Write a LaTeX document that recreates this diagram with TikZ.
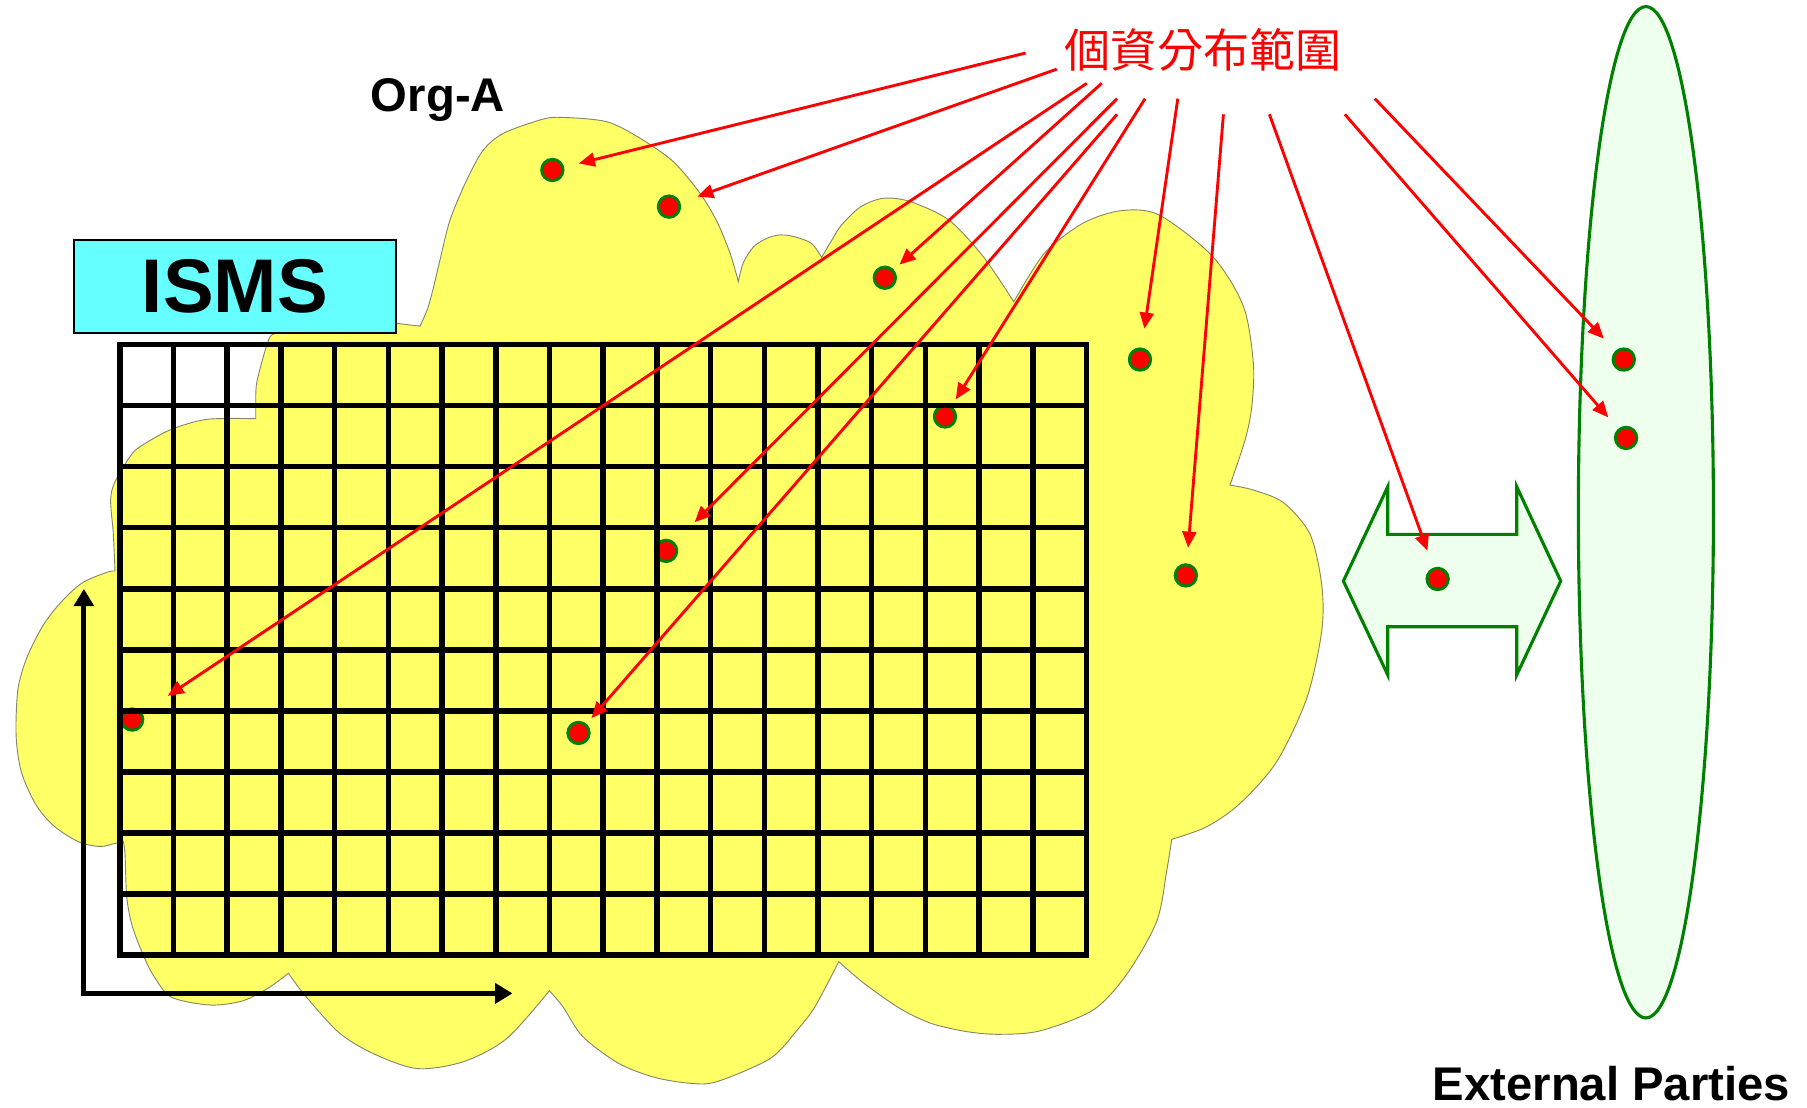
\documentclass[tikz,border=0pt]{standalone}
\usepackage{fontspec}
\setmainfont{Liberation Sans}
\newfontfamily\cjkfont{Noto Sans CJK TC}
\usetikzlibrary{arrows.meta}

\definecolor{cloudyellow}{HTML}{FFFF66}
\definecolor{cloudedge}{HTML}{85856A}
\definecolor{ismscyan}{HTML}{66FFFF}
\definecolor{partygreen}{HTML}{008000}
\definecolor{partyfill}{HTML}{EEFFEE}

\begin{document}
\begin{tikzpicture}[x=1pt,y=-1pt,
  dot/.style={circle, fill=red, draw=partygreen, line width=2.6pt,
    minimum size=18.5pt, inner sep=0pt},
  pointer/.style={draw=red, line width=2.5pt, -{Triangle[length=14pt,width=12pt]}},
  gridline/.style={line width=4.8pt, draw=black},
  axisline/.style={line width=4.3pt, draw=black,
    {Triangle[length=15pt,width=17pt]}-{Triangle[length=15pt,width=17pt]}},
  greenshape/.style={draw=partygreen, fill=partyfill, line width=2.7pt},
  heading/.style={font=\bfseries\fontsize{41}{45}\selectfont, inner sep=0pt}
]
\useasboundingbox (0,0) rectangle (1568,961);

% external parties
\draw[greenshape] (1428.2,444.5) ellipse [x radius=58.6, y radius=438.8];

% organisation cloud
\draw[fill=cloudyellow, draw=cloudedge, line width=0.8pt]
  (344.2,280.6) -- (364.5,283)
  -- plot[smooth] coordinates {(364.5,283) (371,268) (376,250) (381.8,225.6) (390.5,190.9)
      (405,156.2) (419.4,130.2) (436.8,115.7) (468.6,104.1) (486,101.8) (526.4,105.6)
      (555.4,120) (584.3,140.3) (607.4,167.7) (622,192) (633.5,219.8) (640.7,244.4)}
  -- plot[smooth] coordinates {(640.7,244.4) (645,228) (654,214) (665,207) (675.5,204)
      (687,204.8) (703.8,211) (713,223.3)}
  -- plot[smooth] coordinates {(713,223.3) (722,208) (730.3,195.2) (746.9,179.4)
      (766.8,172) (790,175) (823.3,190.9) (853.2,222.7) (879.7,261.8)}
  -- plot[smooth] coordinates {(879.7,261.8) (906.3,219.8) (939.5,193.8) (972.8,182.8)
      (1006,186.6) (1052.4,222.7) (1079,266) (1087.6,315.3) (1086.2,352.9)
      (1080.4,381.8) (1067.3,420.9)}
  -- plot[smooth] coordinates {(1067.3,420.9) (1087.6,425.2) (1113.6,436.1) (1136.8,463.6)
      (1146.9,507.4) (1146.9,547.6) (1133.9,606) (1107.9,660.8) (1076,697.2)
      (1047.1,717.4) (1016.7,728.3)}
  -- plot[smooth] coordinates {(1016.7,728.3) (1012.4,755.7) (1003.7,799.5) (978,845)
      (948.7,876.3) (902.5,894.5) (867,897.5) (839,895.2) (807.9,888) (780.8,875)
      (749.8,853.3) (727.8,834.5)}
  -- plot[smooth] coordinates {(727.8,834.5) (707.2,873.5) (691.7,893.8) (668.5,918.4)
      (622,938.6) (598.8,940) (567.8,934.8) (536.8,922.7) (505.8,899.6) (488.4,873.5)
      (476.7,859.7)}
  -- plot[smooth] coordinates {(476.7,859.7) (440,900.9) (402.9,921) (362.6,927.3)
      (325.4,914.9) (294.4,896.3) (263.4,862.2) (250.4,844.5)}
  -- plot[smooth] coordinates {(250.4,844.5) (232.5,857.5) (210.8,868.4) (182.8,872.1)
      (148.8,865.3) (133.3,846.7) (124,828.1) (114.7,803.3) (110,778.5) (108.5,741.3)
      (106.9,729.9)}
  -- plot[smooth] coordinates {(106.9,729.9) (99.2,732) (86.8,734.5) (68.2,730.5)
      (46.5,716.5) (31,698) (18.6,670) (14,639) (15.5,598.8) (23.2,570.9) (37.2,543)
      (52.7,522.8) (71.3,505.8) (93,496.5) (99.8,495.5)}
  -- plot[smooth] coordinates {(99.8,495.5) (98.3,462.8) (96,433.9) (99.8,418)
      (112.8,396.3) (121.5,387.6) (147.5,373.1) (179.4,363.9) (221.9,363.3)}
  -- (221.9,347.1)
  -- plot[smooth] coordinates {(221.9,347.1) (222.7,332.6) (228.5,309.5) (234.3,292.2)
      (240.1,289.2)}
  -- cycle;

% ISMS label box
\node[draw=black, line width=1.4pt, fill=ismscyan, minimum width=279.6pt,
  minimum height=81pt, inner sep=0pt, font=\bfseries\fontsize{66}{70}\selectfont]
  (isms) at (203.8,248.5) {ISMS};

% exchange arrow between the organisation and external parties
\draw[greenshape, line join=miter]
  (1165.7,504.2) -- (1204.2,422.3) -- (1204.2,463.7) -- (1316.1,463.7)
  -- (1316.1,422.3) -- (1354.3,504.2) -- (1316.1,585.7) -- (1316.1,543.8)
  -- (1204.2,543.8) -- (1204.2,585.7) -- cycle;

% personal data locations
\node[dot] (d1) at (479.3,147.5) {};
\node[dot] (d2) at (580.5,179.3) {};
\node[dot] (d3) at (114.7,624.4) {};
\node[dot] (d4) at (767.8,241) {};
\node[dot] (d5) at (578,478) {};
\node[dot] (d6) at (502,636) {};
\node[dot] (d7) at (820,361.4) {};
\node[dot] (d8) at (989.2,312) {};
\node[dot] (d9) at (1029,499.3) {};
\node[dot] (d10) at (1247.5,502.4) {};
\node[dot] (d11) at (1409,312) {};
\node[dot] (d12) at (1411,380) {};

% ISMS scope grid
\draw[gridline] (104,299) rectangle (942.8,828.7);
\foreach \i in {1,...,17}
  \draw[gridline] ({104+\i*46.6},299) -- ({104+\i*46.6},828.7);
\foreach \j in {1,...,9}
  \draw[gridline] (104,{299+\j*52.97}) -- (942.8,{299+\j*52.97});

% axes
\coordinate (ytip) at (72.8,511);
\coordinate (origin) at (72.8,862);
\coordinate (xtip) at (444.7,862);
\draw[axisline, line join=miter] (ytip) -- (origin) -- (xtip);

% titles
\node[heading, anchor=base] (orga) at (380,97) {Org-A};
\node[heading, anchor=base] (ext) at (1398.3,955) {External Parties};
\node[font=\cjkfont\fontsize{40}{44}\selectfont, text=red, inner sep=0pt, anchor=base]
  (title) at (1044,59) {個資分布範圍};

% pointers from the title to each location
\coordinate (s1) at (890,46);
\coordinate (s2) at (917,60);
\coordinate (s3) at (943,72.3);
\coordinate (s4) at (956,72.3);
\coordinate (s5) at (969.3,85.6);
\coordinate (s6) at (969.3,99.2);
\coordinate (s7) at (993.6,85.6);
\coordinate (s8) at (1022,85.6);
\coordinate (s9) at (1061.6,99.2);
\coordinate (s10) at (1101.5,99.2);
\coordinate (s11) at (1167,99.2);
\coordinate (s12) at (1193,85.6);

\draw[pointer, shorten >=13pt] (s1) -- (d1);
\draw[pointer, shorten >=15.5pt] (s2) -- (d2);
\draw[pointer, shorten >=26.5pt] (s3) -- (d3);
\draw[pointer, shorten >=6.5pt] (s4) -- (d4);
\draw[pointer, shorten >=24.5pt] (s5) -- (d5);
\draw[pointer, shorten >=6.5pt] (s6) -- (d6);
\draw[pointer, shorten >=7pt] (s7) -- (d7);
\draw[pointer, shorten >=16.5pt] (s8) -- (d8);
\draw[pointer, shorten >=13.5pt] (s9) -- (d9);
\draw[pointer, shorten >=15.5pt] (s10) -- (d10);
\draw[pointer, shorten >=13pt] (s11) -- (d12);
\draw[pointer, shorten >=14.5pt] (s12) -- (d11);
\end{tikzpicture}
\end{document}
